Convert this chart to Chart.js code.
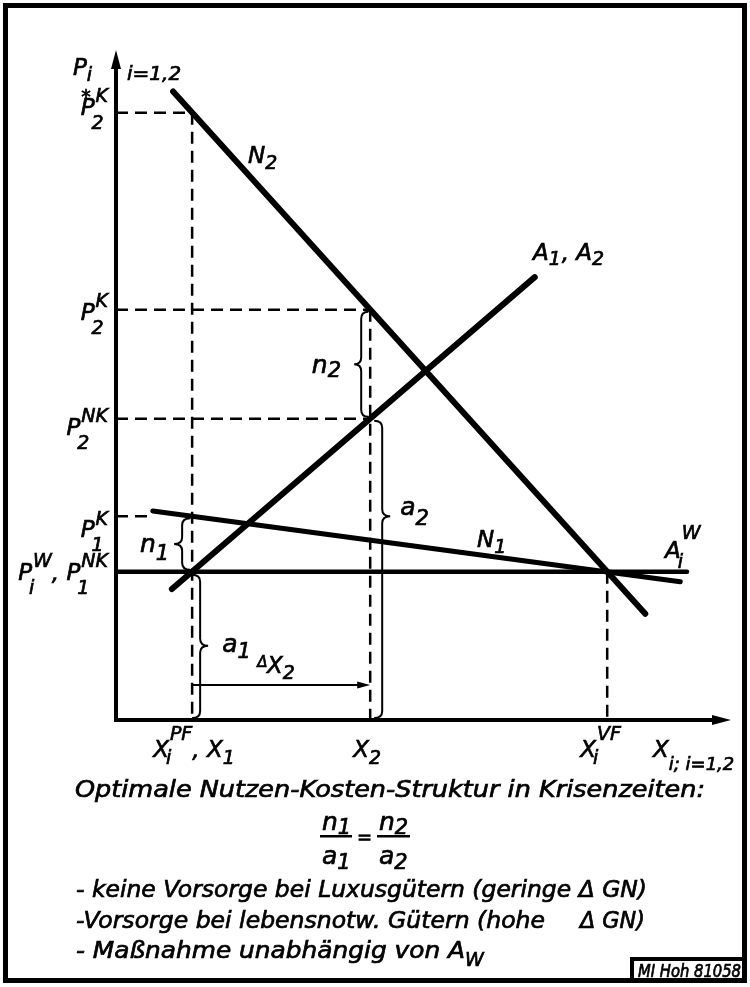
<!DOCTYPE html>
<html>
<head>
<meta charset="utf-8">
<script src="https://cdn.jsdelivr.net/npm/chart.js@4.4.0/dist/chart.umd.min.js"></script>
<style>
  html, body { margin: 0; background: #fff; }
  #wrap { width: 750px; height: 987px; position: relative; }
</style>
</head>
<body>
<div id="wrap"><canvas id="chart"></canvas></div>
<script>
// values (x: quantity 0..100, y: price 0..100)
const xTickValues = [12.4, 41.4, 80.0]
const xTickLabels = ['X_{i}^{PF}, X_{1}', 'X_{2}', 'X_{i}^{VF}']
const yTickValues = [90.9, 61.4, 45.1, 30.5, 22.2]
const yTickLabels = ['P!{*}_{2}^{K}', 'P_{2}^{K}', 'P_{2}^{NK}', 'P_{1}^{K}', 'P_{i}^{W}, P_{1}^{NK}']
const n2Curve = [{x: 9.3, y: 94.1}, {x: 86.2, y: 15.9}]
const aCurve = [{x: 9.1, y: 19.6}, {x: 68.2, y: 66.3}]
const n1Curve = [{x: 6.0, y: 31.3}, {x: 91.9, y: 20.7}]
const awCurve = [{x: 0, y: 22.2}, {x: 93.0, y: 22.2}]

const [X1, X2, XVF] = xTickValues
const [P2S, P2K, P2NK, P1K, PW] = yTickValues

const FONT = '"DejaVu Sans"'

// dashed helper lines built from the tick values
const guides = [
  [{x: 0, y: P2S}, {x: X1, y: P2S}],
  [{x: X1, y: P2S}, {x: X1, y: 0}],
  [{x: 0, y: P2K}, {x: X2, y: P2K}],
  [{x: X2, y: P2K}, {x: X2, y: 0}],
  [{x: 0, y: P2NK}, {x: X2, y: P2NK}],
  [{x: 0, y: P1K}, {x: n1Curve[0].x, y: P1K}],
  [{x: XVF, y: PW}, {x: XVF, y: 0}]
]

const datasets = []
const solid = (data, w) => ({data, showLine: true, borderColor: '#000', borderWidth: w,
  borderCapStyle: 'round', pointRadius: 0, fill: false})
datasets.push(solid(n2Curve, 6))
datasets.push(solid(aCurve, 6))
datasets.push(solid(n1Curve, 5))
datasets.push(solid(awCurve, 4.5))
guides.forEach(g => {
  datasets.push({data: g, showLine: true, borderColor: '#000', borderWidth: 2.5,
    borderDash: [12, 7], pointRadius: 0, fill: false})
})

// fill + thin stroke, the lettering in the drawing is a bit heavier than the font
function ink(ctx, s, x, y) {
  ctx.fillText(s, x, y)
  ctx.lineWidth = 0.7
  ctx.strokeText(s, x, y)
}

function parseMath(str) {
  const segs = []
  const re = /([_^!])\{([^}]*)\}|([^_^!]+)/g
  let m
  while ((m = re.exec(str))) {
    if (m[3] !== undefined) segs.push({t: m[3]})
    else {
      if (!segs.length) segs.push({t: ''})
      const s = segs[segs.length - 1]
      if (m[1] === '_') s.sub = m[2]
      else if (m[1] === '^') s.sup = m[2]
      else s.over = m[2]
    }
  }
  return segs
}

function drawMath(ctx, str, x, y, o = {}) {
  const size = o.size || 23
  const small = o.small || Math.round(size * 0.82)
  const big = `italic ${size}px ${FONT}`
  const little = `italic ${small}px ${FONT}`
  const segs = parseMath(str)
  let w = 0
  segs.forEach(s => {
    ctx.font = big
    s.w = ctx.measureText(s.t).width
    ctx.font = little
    s.sw = Math.max(s.sub ? ctx.measureText(s.sub).width : 0, s.sup ? ctx.measureText(s.sup).width : 0)
    w += s.w + (s.sw ? s.sw + 1 : 0)
  })
  let cx = o.align === 'right' ? x - w : o.align === 'center' ? x - w / 2 : x
  ctx.textAlign = 'left'
  ctx.textBaseline = 'alphabetic'
  segs.forEach(s => {
    ctx.font = big
    ink(ctx, s.t, cx, y)
    ctx.font = little
    if (s.over) ink(ctx, s.over, cx + s.w * 0.05, y - size * 0.5)
    cx += s.w
    if (s.sup) ink(ctx, s.sup, cx + 1, y - size * (o.supRaise ?? 0.5))
    if (s.sub) ink(ctx, s.sub, cx - (s.sup ? 3 : 0), y + size * (o.subDrop ?? 0.5))
    if (s.sw) cx += s.sw + 1
  })
}

function fitText(ctx, s, x, y, w, font) {
  ctx.font = font
  ctx.textAlign = 'left'
  ctx.textBaseline = 'alphabetic'
  const k = w / ctx.measureText(s).width
  ctx.save()
  ctx.translate(x, y)
  ctx.scale(k, 1)
  ink(ctx, s, 0, 0)
  ctx.restore()
}

function brace(ctx, x, y1, y2, tipY, dir, w) {
  const r = 7
  ctx.beginPath()
  ctx.moveTo(x - dir * w, y1)
  ctx.quadraticCurveTo(x, y1, x, y1 + r)
  ctx.lineTo(x, tipY - r)
  ctx.quadraticCurveTo(x, tipY, x + dir * w, tipY)
  ctx.quadraticCurveTo(x, tipY, x, tipY + r)
  ctx.lineTo(x, y2 - r)
  ctx.quadraticCurveTo(x, y2, x - dir * w, y2)
  ctx.stroke()
}

const diagram = {
  id: 'diagram',
  beforeDraw(chart) {
    const ctx = chart.ctx
    ctx.save()
    ctx.fillStyle = '#fff'
    ctx.fillRect(0, 0, chart.width, chart.height)
    ctx.restore()
  },
  afterDraw(chart) {
    const ctx = chart.ctx
    const xs = chart.scales.x, ys = chart.scales.y
    const area = chart.chartArea
    const px = v => xs.getPixelForValue(v)
    const py = v => ys.getPixelForValue(v)
    const x0 = px(0), y0 = py(0)
    ctx.save()
    ctx.fillStyle = '#000'
    ctx.strokeStyle = '#000'

    // axes with arrows
    ctx.lineWidth = 4
    ctx.beginPath()
    ctx.moveTo(x0, y0 + 2); ctx.lineTo(x0, area.top + 14)
    ctx.moveTo(x0 - 2, y0); ctx.lineTo(area.right - 16, y0)
    ctx.stroke()
    ctx.beginPath()
    ctx.moveTo(x0, area.top - 2); ctx.lineTo(x0 + 5, area.top + 17); ctx.lineTo(x0 - 5, area.top + 17)
    ctx.closePath(); ctx.fill()
    ctx.beginPath()
    ctx.moveTo(area.right + 1, y0); ctx.lineTo(area.right - 18, y0 - 5); ctx.lineTo(area.right - 18, y0 + 5)
    ctx.closePath(); ctx.fill()

    // braces
    ctx.lineWidth = 2
    brace(ctx, px(X2) - 9, py(P2K) + 2, py(P2NK) - 2, (py(P2K) + py(P2NK)) / 2, -1, 7)
    brace(ctx, px(X2) + 12, py(P2NK) + 2, y0 - 2, py(P1K), 1, 8)
    brace(ctx, px(X1) - 10, py(P1K) + 2, py(PW) - 2, (py(P1K) + py(PW)) / 2, -1, 8)
    brace(ctx, px(X1) + 8, py(PW) + 3, y0 - 2, (py(PW) + y0) / 2, 1, 8)

    // delta X2 arrow
    const ay = y0 - 35
    ctx.lineWidth = 2
    ctx.beginPath(); ctx.moveTo(px(X1), ay); ctx.lineTo(px(X2) - 8, ay); ctx.stroke()
    ctx.beginPath(); ctx.moveTo(px(X2), ay); ctx.lineTo(px(X2) - 13, ay - 3.5); ctx.lineTo(px(X2) - 13, ay + 3.5)
    ctx.closePath(); ctx.fill()

    // y tick labels
    const yDy = [2, 10, 16, 21, 8]
    yTickLabels.forEach((l, i) => {
      drawMath(ctx, l, 108, py(yTickValues[i]) + yDy[i], {align: 'right', size: 23, supRaise: 0.55, subDrop: 0.6})
    })
    // x tick labels
    const xDx = [-39, -17, -27]
    xTickLabels.forEach((l, i) => {
      drawMath(ctx, l, px(xTickValues[i]) + xDx[i], y0 + 37, {size: 23, supRaise: 0.72, subDrop: 0.3})
    })

    // axis titles
    drawMath(ctx, 'P_{i}', 73, 75, {size: 23, subDrop: 0.25})
    ctx.font = `italic 20px ${FONT}`
    ink(ctx, 'i=1,2', 127, 80)
    drawMath(ctx, 'X_{i; i=1,2}', 653, y0 + 37, {size: 23, small: 18, subDrop: 0.55})

    // curve and bracket labels
    const lab = (s, dx, dy, o) => drawMath(ctx, s, px(dx), py(dy), Object.assign({size: 23, subDrop: 0.25}, o))
    lab('N_{2}', 21.5, 83.4)
    lab('A_{1}, A_{2}', 67.9, 68.9)
    lab('N_{1}', 58.8, 25.9)
    lab('A_{i}^{W}', 89.4, 24.3, {supRaise: 0.8, subDrop: 0.45})
    lab('n_{2}', 31.9, 51.9, {size: 25, subDrop: 0.15})
    lab('n_{1}', 3.9, 25.1, {size: 25, subDrop: 0.3})
    lab('a_{2}', 46.3, 30.7, {size: 25, subDrop: 0.4})
    lab('a_{1}', 17.3, 10.2, {size: 25, subDrop: 0.25})
    ctx.font = `italic 15px ${FONT}`
    ink(ctx, '\u0394', px(23.0), py(7.0) - 6)
    lab('X_{2}', 24.6, 7.0, {subDrop: 0.25})

    // caption block
    const cap = `italic 23px ${FONT}`
    fitText(ctx, 'Optimale Nutzen-Kosten-Struktur in Krisenzeiten:', 75, 797, 630, cap)
    drawMath(ctx, 'n_{1}', 322, 830, {size: 25, subDrop: 0.15})
    drawMath(ctx, 'a_{1}', 322, 864, {size: 25, subDrop: 0.2})
    drawMath(ctx, 'n_{2}', 379, 830, {size: 25, subDrop: 0.15})
    drawMath(ctx, 'a_{2}', 379, 864, {size: 25, subDrop: 0.2})
    ctx.fillRect(320, 835, 32, 2.5)
    ctx.fillRect(377, 835, 33, 2.5)
    ctx.font = `italic 18px ${FONT}`
    ink(ctx, '=', 357, 843)
    fitText(ctx, '- keine Vorsorge bei Luxusgütern (geringe \u0394 GN)', 76, 897, 571, cap)
    fitText(ctx, '-Vorsorge bei lebensnotw. Gütern (hohe', 76, 928, 469, cap)
    fitText(ctx, '\u0394 GN)', 580, 928, 65, cap)
    fitText(ctx, '- Maßnahme unabhängig von A', 76, 958, 389, cap)
    ctx.font = `italic 19px ${FONT}`
    ink(ctx, 'W', 465, 966)

    // reference box (closed by the frame on the right and bottom)
    ctx.lineWidth = 4
    ctx.beginPath()
    ctx.moveTo(632, 982); ctx.lineTo(632, 959); ctx.lineTo(744, 959)
    ctx.stroke()
    fitText(ctx, 'MI Hoh 81058', 638, 977, 103, `italic 17px ${FONT}`)

    // outer frame
    ctx.lineWidth = 5
    ctx.strokeRect(5.5, 5.5, 739, 975)
    ctx.restore()
  }
}

new Chart(document.getElementById('chart'), {
  type: 'scatter',
  data: {datasets},
  options: {
    responsive: true,
    maintainAspectRatio: false,
    animation: false,
    layout: {padding: {left: 116, top: 52, right: 20, bottom: 267}},
    scales: {
      x: {type: 'linear', min: 0, max: 100, display: false},
      y: {type: 'linear', min: 0, max: 100, display: false}
    },
    plugins: {legend: {display: false}, tooltip: {enabled: false}},
    events: []
  },
  plugins: [diagram]
})
</script>
</body>
</html>
